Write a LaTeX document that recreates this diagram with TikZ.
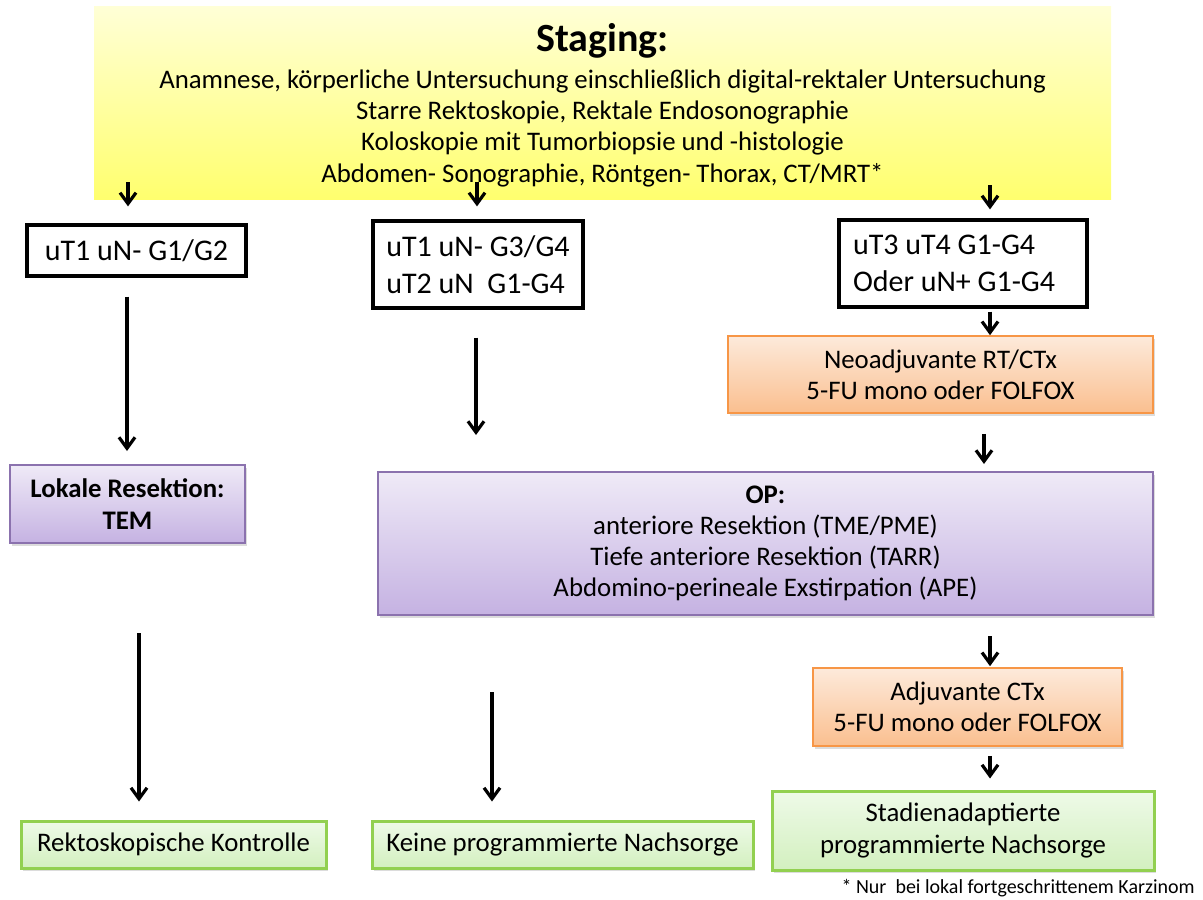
\documentclass[tikz,border=0pt]{standalone}
\usepackage{fontspec}
\setmainfont{Carlito}
\usetikzlibrary{arrows.meta,shadows,calc}
\definecolor{yelTop}{HTML}{FFFFD6}
\definecolor{yelBot}{HTML}{FFFF6E}
\definecolor{orTop}{HTML}{FDEADB}
\definecolor{orBot}{HTML}{FABF8F}
\definecolor{orLine}{HTML}{F79646}
\definecolor{puTop}{HTML}{EFEAF7}
\definecolor{puBot}{HTML}{C5B2E2}
\definecolor{puLine}{HTML}{8B72AE}
\definecolor{grTop}{HTML}{EEFAE8}
\definecolor{grBot}{HTML}{D3F0BF}
\definecolor{grLine}{HTML}{92D050}
\tikzset{
  basebox/.style={rectangle, inner sep=0pt, align=center, font=\fontsize{13.4pt}{15.6pt}\selectfont},
  boxshadow/.style={drop shadow={shadow xshift=0.8pt, shadow yshift=-1.4pt, opacity=0.28}},
  stagebox/.style={basebox, top color=yelTop, bottom color=yelBot},
  blackbox/.style={basebox, draw=black, line width=1.6pt, fill=white, font=\fontsize{15pt}{18.5pt}\selectfont},
  orangebox/.style={basebox, boxshadow, draw=orLine, line width=0.8pt, top color=orTop, bottom color=orBot},
  purplebox/.style={basebox, boxshadow, draw=puLine, line width=1pt, top color=puTop, bottom color=puBot},
  greenbox/.style={basebox, boxshadow, draw=grLine, line width=1.5pt, top color=grTop, bottom color=grBot},
  arr/.style={line width=1.6pt, -{Straight Barb[length=5.5pt,width=8pt]}},
}
\begin{document}
\begin{tikzpicture}[x=0.5pt, y=-0.5pt]
\useasboundingbox (0,0) rectangle (1203,899);

\node[stagebox, minimum width=508.5pt, minimum height=96pt] (staging) at (602.5,103)
  {{\fontsize{20pt}{24pt}\selectfont\bfseries\rule{0pt}{16.2pt}Staging:}\\[2.9pt]
   Anamnese, körperliche Untersuchung einschließlich digital-rektaler Untersuchung\\
   Starre Rektoskopie, Rektale Endosonographie\\
   Koloskopie mit Tumorbiopsie und -histologie\\
   Abdomen- Sonographie, Röntgen- Thorax, CT/MRT*};

\node[blackbox, minimum width=109.5pt, minimum height=25.5pt] (b1) at (136.5,250.5) {uT1 uN- G1/G2};
\node[blackbox, align=flush left, minimum width=105pt, minimum height=43.5pt] (b2) at (478,264.5)
  {uT1 uN- G3/G4\\uT2 uN~ G1-G4};
\node[blackbox, align=flush left, text width=110pt, inner xsep=7pt, minimum width=124pt, minimum height=43.5pt] (b3) at (963,263.5)
  {uT3 uT4 G1-G4\\Oder uN+ G1-G4};

\node[orangebox, minimum width=212.5pt, minimum height=38.5pt] (neo) at (940.5,374.5)
  {Neoadjuvante RT/CTx\\5-FU mono oder FOLFOX};

\node[purplebox, minimum width=117.5pt, minimum height=39pt] (lok) at (127.5,504)
  {\bfseries Lokale Resektion:\\\bfseries TEM};

\node[purplebox, minimum width=387.5pt, minimum height=71.5pt] (op) at (765.5,543.5)
  {\bfseries OP:\\
   anteriore Resektion (TME/PME)\\
   Tiefe anteriore Resektion (TARR)\\
   Abdomino-perineale Exstirpation (APE)};

\node[orangebox, minimum width=154.5pt, minimum height=39pt] (adj) at (967.5,707)
  {Adjuvante CTx\\5-FU mono oder FOLFOX};

\node[greenbox, minimum width=191pt, minimum height=39.5pt] (stad) at (963,830.5)
  {Stadienadaptierte\\programmierte Nachsorge};
\node[greenbox, minimum width=152.5pt, minimum height=23.5pt] (rek) at (173.5,844.5)
  {Rektoskopische Kontrolle};
\node[greenbox, minimum width=190.5pt, minimum height=23.5pt] (kei) at (562.5,844.5)
  {Keine programmierte Nachsorge};

\node[anchor=base east, inner sep=0pt, font=\fontsize{10pt}{12pt}\selectfont] (foot) at (1195,893)
  {* Nur~ bei lokal fortgeschrittenem Karzinom};

\draw[arr] ($(staging.south -| b1.north)+(-4.25pt,8.5pt)$) -- ($(b1.north)+(-4.25pt,8.5pt)$);
\draw[arr] ($(staging.south -| b2.north)+(-0.5pt,8.5pt)$) -- ($(b2.north)+(-0.5pt,6.5pt)$);
\draw[arr] ($(staging.south -| b3.north)+(13.5pt,7pt)$) -- ($(b3.north)+(13.5pt,4.5pt)$);
\draw[arr] ($(b1.south -| lok.north)+(-0.25pt,-9.5pt)$) -- ($(lok.north)+(-0.25pt,6.5pt)$);
\draw[arr] ($(b2.south)+(-1pt,-14pt)$) -- ($(op.north -| b2.south)+(-1pt,18pt)$);
\draw[arr] ($(b3.south)+(13.5pt,-1.5pt)$) -- ($(neo.north -| b3.south)+(13.5pt,0pt)$);
\draw[arr] ($(neo.south)+(21.75pt,-10pt)$) -- ($(op.north -| neo.south)+(21.75pt,3.5pt)$);
\draw[arr] ($(lok.south)+(5.75pt,-44.5pt)$) -- ($(rek.north -| lok.south)+(5.75pt,9pt)$);
\draw[arr] ($(op.south -| kei.north)+(-35.25pt,-38pt)$) -- ($(kei.north)+(-35.25pt,9pt)$);
\draw[arr] ($(op.south -| adj.north)+(11.25pt,-10pt)$) -- ($(adj.north)+(11.25pt,0.5pt)$);
\draw[arr] ($(adj.south -| stad.north)+(13.5pt,-4.5pt)$) -- ($(stad.north)+(13.5pt,5.5pt)$);
\end{tikzpicture}
\end{document}
